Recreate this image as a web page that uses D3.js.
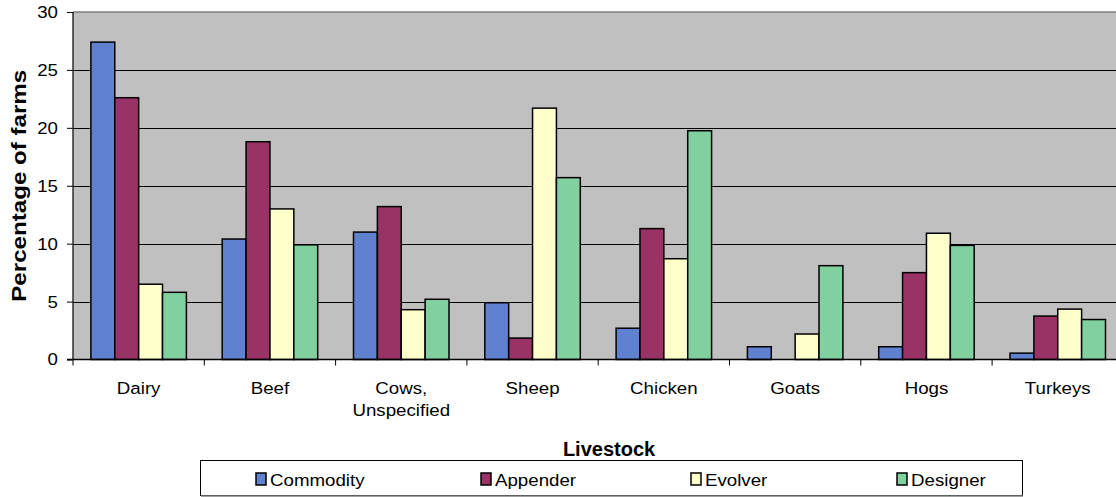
<!DOCTYPE html>
<html>
<head>
<meta charset="utf-8">
<script src="https://cdn.jsdelivr.net/npm/d3@7"></script>
<style>
  body { margin: 0; background: #fff; }
  text { font-family: "Liberation Sans", Arial, sans-serif; }
</style>
</head>
<body>
<div id="chart"></div>
<script>
// data
var categories = ["Dairy", "Beef", "Cows,\nUnspecified", "Sheep", "Chicken", "Goats", "Hogs", "Turkeys"];
var seriesNames = ["Commodity", "Appender", "Evolver", "Designer"];
var commodity = [27.4, 10.4, 11.0, 4.9, 2.7, 1.1, 1.1, 0.55];
var appender  = [22.6, 18.8, 13.2, 1.85, 11.3, 0, 7.5, 3.75];
var evolver   = [6.5, 13.0, 4.3, 21.7, 8.7, 2.2, 10.9, 4.35];
var designer  = [5.8, 9.9, 5.2, 15.7, 19.75, 8.1, 9.85, 3.45];
var yTicks = [0, 5, 10, 15, 20, 25, 30];
var colors = ["#6080D0", "#993366", "#FFFFCC", "#80D0A0"];

var seriesValues = [commodity, appender, evolver, designer];

// layout (note: "top" is reserved on window, so use plot* names)
var width = 1116, height = 497;
var plotLeft = 73, plotTop = 12, plotBottom = 359.5;
var bandW = 131.3;
var sx = 1.1;   // the reference text is a bit wider than Arial

var svg = d3.select("#chart").append("svg")
  .attr("width", width)
  .attr("height", height);

var x0 = d3.scaleBand()
  .domain(categories)
  .range([plotLeft, plotLeft + bandW * categories.length])
  .padding(0);
var plotRight = x0.range()[1];

var barW = bandW / 5.5;
var x1 = d3.scaleBand()
  .domain(seriesNames)
  .range([barW * 0.75, bandW - barW * 0.75])
  .padding(0);

var y = d3.scaleLinear()
  .domain([0, 30])
  .range([plotBottom, plotTop]);

// plot background
svg.append("rect")
  .attr("x", plotLeft)
  .attr("y", plotTop)
  .attr("width", plotRight - plotLeft)
  .attr("height", plotBottom - plotTop)
  .attr("fill", "#C0C0C0");

// gridlines
svg.selectAll(".grid")
  .data(yTicks.filter(function(d) { return d > 0 && d < 30; }))
  .enter().append("line")
  .attr("x1", plotLeft).attr("x2", plotRight)
  .attr("y1", function(d) { return Math.round(y(d)) + 0.5; })
  .attr("y2", function(d) { return Math.round(y(d)) + 0.5; })
  .attr("stroke", "#000")
  .attr("stroke-width", 1);

// top border
svg.append("line")
  .attr("x1", plotLeft).attr("x2", plotRight)
  .attr("y1", plotTop).attr("y2", plotTop)
  .attr("stroke", "#808080")
  .attr("stroke-width", 1.5);

// bars
var groups = svg.selectAll(".cat")
  .data(categories)
  .enter().append("g")
  .attr("transform", function(d) { return "translate(" + x0(d) + ",0)"; });

groups.selectAll("rect")
  .data(function(d, i) {
    return seriesNames.map(function(s, j) { return { s: s, v: seriesValues[j][i], c: colors[j] }; });
  })
  .enter().append("rect")
  .filter(function(d) { return d.v > 0; })
  .attr("x", function(d) { return x1(d.s); })
  .attr("y", function(d) { return y(d.v); })
  .attr("width", x1.bandwidth())
  .attr("height", function(d) { return y(0) - y(d.v); })
  .attr("fill", function(d) { return d.c; })
  .attr("stroke", "#000")
  .attr("stroke-width", 1.5);

// y axis
var yAxis = svg.append("g")
  .attr("transform", "translate(" + plotLeft + ",0)")
  .call(d3.axisLeft(y).tickValues(yTicks).tickSize(6).tickPadding(0));
yAxis.select(".domain").attr("stroke", "#000").attr("stroke-width", 1.2)
  .attr("d", "M0," + plotTop + "V" + plotBottom);
yAxis.selectAll("text")
  .attr("x", 0)
  .attr("font-size", 17).attr("fill", "#000")
  .attr("transform", "translate(-15,0) scale(" + sx + ",1)")
  .style("font-family", "Liberation Sans, Arial, sans-serif");

// x axis
var xAxisG = svg.append("g").attr("transform", "translate(0," + plotBottom + ")");
xAxisG.append("line")
  .attr("x1", plotLeft - 6).attr("x2", plotRight)
  .attr("y1", 0).attr("y2", 0)
  .attr("stroke", "#000").attr("stroke-width", 1.5);
xAxisG.selectAll(".tick")
  .data(categories)
  .enter().append("line")
  .attr("x1", function(d) { return x0(d); })
  .attr("x2", function(d) { return x0(d); })
  .attr("y1", 0).attr("y2", 6)
  .attr("stroke", "#000");

var labels = xAxisG.selectAll(".lab")
  .data(categories)
  .enter().append("text")
  .attr("text-anchor", "middle")
  .attr("font-size", 17)
  .attr("fill", "#000")
  .attr("transform", function(d) { return "translate(" + (x0(d) + bandW / 2) + ",34) scale(" + sx + ",1)"; });
labels.selectAll("tspan")
  .data(function(d) { return d.split("\n"); })
  .enter().append("tspan")
  .attr("x", 0)
  .attr("dy", function(d, i) { return i === 0 ? 0 : 23; })
  .text(function(d) { return d; });

// axis titles
svg.append("text")
  .attr("transform", "translate(609,456)")
  .attr("text-anchor", "middle")
  .attr("font-size", 20).attr("font-weight", "bold")
  .text("Livestock");

svg.append("text")
  .attr("transform", "translate(26," + ((plotTop + plotBottom) / 2) + ") rotate(-90) scale(1.15,1)")
  .attr("text-anchor", "middle")
  .attr("font-size", 21).attr("font-weight", "bold")
  .text("Percentage of farms");

// legend
var legend = svg.append("g");
legend.append("rect")
  .attr("x", 200.5).attr("y", 460.5)
  .attr("width", 822).attr("height", 35)
  .attr("fill", "#fff")
  .attr("stroke", "#000").attr("stroke-width", 1);
legend.append("line")
  .attr("x1", 201).attr("x2", 1023).attr("y1", 496).attr("y2", 496)
  .attr("stroke", "#808080").attr("stroke-width", 1.5);

var legendX = [256, 481, 691, 897];
var items = legend.selectAll(".item")
  .data(seriesNames)
  .enter().append("g")
  .attr("transform", function(d, i) { return "translate(" + legendX[i] + ",479)"; });
items.append("rect")
  .attr("x", 0).attr("y", -6)
  .attr("width", 10).attr("height", 12)
  .attr("fill", function(d, i) { return colors[i]; })
  .attr("stroke", "#000").attr("stroke-width", 1.5);
items.append("text")
  .attr("font-size", 17)
  .attr("transform", "translate(14,6.5) scale(" + sx + ",1)")
  .text(function(d) { return d; });
</script>
</body>
</html>
